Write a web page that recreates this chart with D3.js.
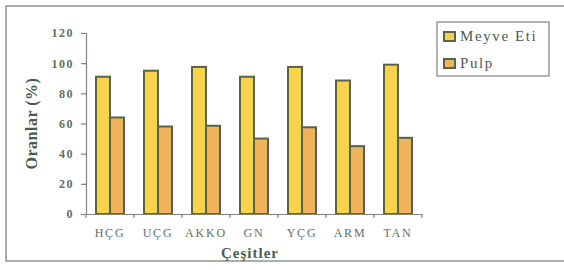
<!DOCTYPE html>
<html>
<head>
<meta charset="utf-8">
<script src="https://cdn.jsdelivr.net/npm/d3@7"></script>
<style>
  body { margin: 0; background: #fff; }
  svg text { font-family: "Liberation Serif", "DejaVu Serif", serif; }
</style>
</head>
<body>
<div id="chart"></div>
<script>
// data
var categories = ["HÇG", "UÇG", "AKKO", "GN", "YÇG", "ARM", "TAN"];
var meyveEti = [91, 95, 97.5, 91, 97.5, 88.5, 99];
var pulp = [64, 58, 58.5, 50, 57.5, 45, 50.5];
var seriesNames = ["Meyve Eti", "Pulp"];
var yTicks = [0, 20, 40, 60, 80, 100, 120];

var colors = ["#f7d24a", "#f1b357"];
var strokeCol = "#56654a";
var textCol = "#5f6e66";

var svg = d3.select("#chart")
    .append("svg")
    .attr("width", 564)
    .attr("height", 270);

// outer frame
svg.append("rect")
    .attr("x", 6).attr("y", 6)
    .attr("width", 570).attr("height", 255)
    .style("fill", "none")
    .style("stroke", "#8a948e")
    .style("stroke-width", 1.5);

var margin = { top: 33, left: 86 },
    width = 336,
    height = 181;

var x0 = d3.scaleBand()
    .domain(categories)
    .range([0, width])
    .paddingInner(0)
    .paddingOuter(0);

var x1 = d3.scaleBand()
    .domain(seriesNames)
    .range([10, x0.bandwidth() - 10]);

var y = d3.scaleLinear()
    .domain([0, 120])
    .range([height, 0]);

var g = svg.append("g")
    .attr("transform", "translate(" + margin.left + "," + margin.top + ")");

var rows = categories.map(function (c, i) {
    return { cat: c, values: [meyveEti[i], pulp[i]] };
});

var group = g.selectAll(".grp")
    .data(rows)
    .enter().append("g")
    .attr("class", "grp")
    .attr("transform", function (d) { return "translate(" + x0(d.cat) + ",0)"; });

group.selectAll("rect")
    .data(function (d) { return d.values.map(function (v, j) { return { name: seriesNames[j], v: v, j: j }; }); })
    .enter().append("rect")
    .attr("x", function (d) { return x1(d.name); })
    .attr("width", x1.bandwidth())
    .attr("y", function (d) { return y(d.v); })
    .attr("height", function (d) { return height - y(d.v); })
    .style("fill", function (d) { return colors[d.j]; })
    .style("stroke", strokeCol)
    .style("stroke-width", 2);

// y axis
var yAxis = g.append("g")
    .call(d3.axisLeft(y).tickValues(yTicks).tickSize(5).tickPadding(7));
yAxis.select(".domain").style("stroke", "#7d857f").style("stroke-width", 1.2);
yAxis.selectAll(".tick line").style("stroke", "#7d857f").style("stroke-width", 1.2);
yAxis.selectAll("text")
    .style("font-size", "12px")
    .style("font-weight", "bold")
    .style("letter-spacing", "1.5px")
    .style("fill", textCol);

// x axis with ticks between categories
var xAxis = g.append("g")
    .attr("transform", "translate(0," + height + ")")
    .call(d3.axisBottom(x0).tickSize(0).tickPadding(14));
xAxis.select(".domain").style("stroke", "#7d857f").style("stroke-width", 1.2);
xAxis.selectAll("text")
    .style("font-size", "12px")
    .style("letter-spacing", "1.8px")
    .style("fill", textCol);
xAxis.selectAll(".sep")
    .data(d3.range(categories.length + 1))
    .enter().append("line")
    .attr("x1", function (i) { return i * x0.step(); })
    .attr("x2", function (i) { return i * x0.step(); })
    .attr("y1", 0).attr("y2", 4)
    .style("stroke", "#7d857f")
    .style("stroke-width", 1.2);

// axis titles
svg.append("text")
    .attr("transform", "translate(37," + (margin.top + height / 2) + ") rotate(-90)")
    .attr("text-anchor", "middle")
    .style("font-size", "16px")
    .style("font-weight", "bold")
    .style("letter-spacing", "0.5px")
    .style("fill", "#4c5b52")
    .text("Oranlar (%)");

svg.append("text")
    .attr("x", 250).attr("y", 258)
    .attr("text-anchor", "middle")
    .style("font-size", "15px")
    .style("font-weight", "bold")
    .style("letter-spacing", "1px")
    .style("fill", "#4c5b52")
    .text("Çeşitler");

// legend
var legend = svg.append("g").attr("transform", "translate(437,22)");
legend.append("rect")
    .attr("width", 112).attr("height", 54)
    .style("fill", "#fff")
    .style("stroke", "#7d857f")
    .style("stroke-width", 1.2);

var item = legend.selectAll(".item")
    .data(seriesNames)
    .enter().append("g")
    .attr("class", "item")
    .attr("transform", function (d, i) { return "translate(7," + (10 + i * 27) + ")"; });
item.append("rect")
    .attr("width", 11).attr("height", 9)
    .style("fill", function (d, i) { return colors[i]; })
    .style("stroke", strokeCol)
    .style("stroke-width", 2);
item.append("text")
    .attr("x", 16).attr("y", 9)
    .style("font-size", "15px")
    .style("letter-spacing", "1.6px")
    .style("fill", "#4c5b52")
    .text(function (d) { return d; });
</script>
</body>
</html>
